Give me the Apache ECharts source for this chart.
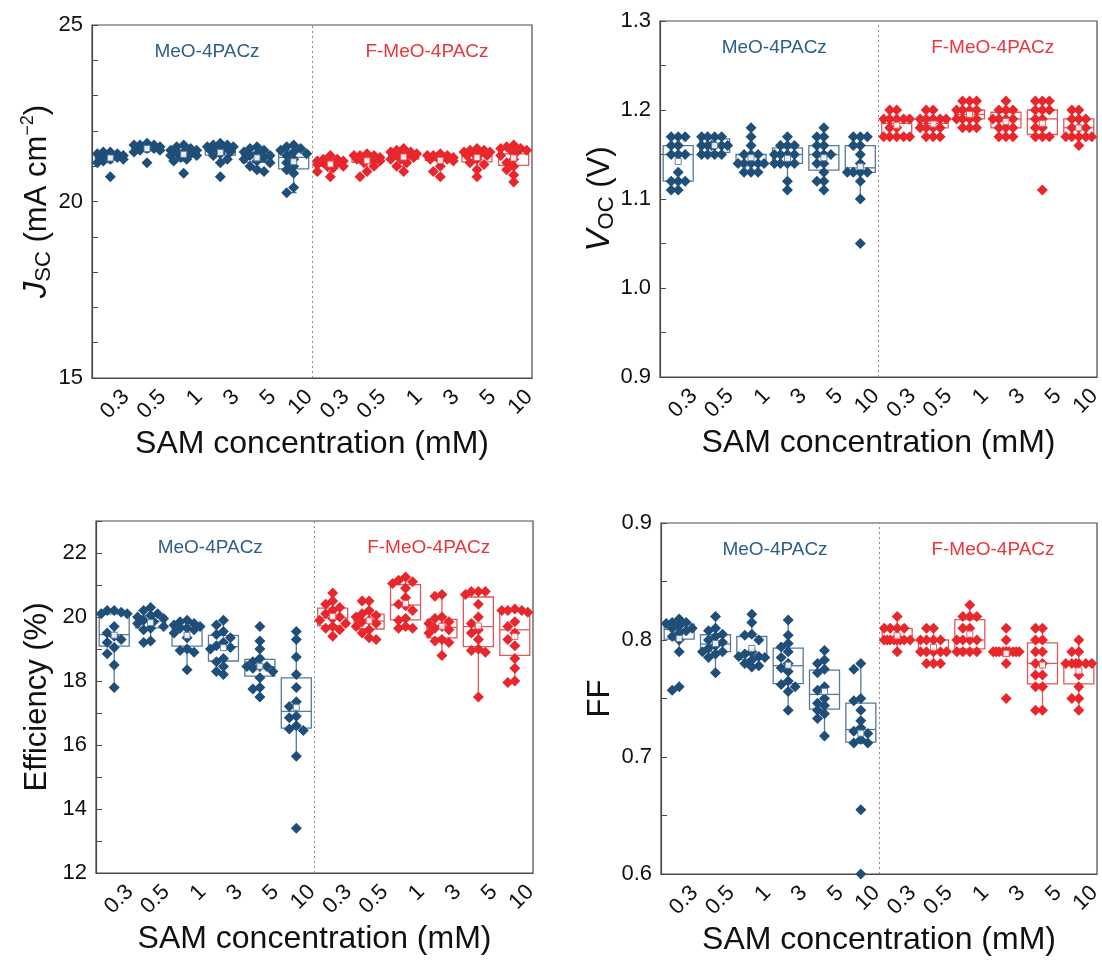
<!DOCTYPE html>
<html>
<head>
<meta charset="utf-8">
<script src="https://cdn.jsdelivr.net/npm/echarts@6/dist/echarts.min.js"></script>
<style>
html,body{margin:0;padding:0;background:#fff;}
#chart{width:1102px;height:963px;}
</style>
</head>
<body>
<div id="chart"></div>
<script>
// SAM concentrations (mM) for each molecule
const concentrations = ['0.3', '0.5', '1', '3', '5', '10'];
const categories = concentrations.concat(concentrations);
const groupNames = ['MeO-4PACz', 'F-MeO-4PACz'];

// Short-circuit current density (mA cm^-2), one list per concentration
const jscMeO = [
  [21.3, 21.25, 21.35, 21.2, 21.4, 21.3, 21.15, 21.25, 21.1, 21.3, 21.4, 21.2, 20.7, 21.35],
  [21.6, 21.55, 21.5, 21.65, 21.45, 21.5, 21.6, 21.55, 21.4, 21.5, 21.6, 21.1, 21.55, 21.45],
  [21.5, 21.4, 21.3, 21.55, 21.25, 21.45, 21.35, 21.2, 21.6, 21.4, 21.3, 21.15, 20.8, 21.45],
  [21.6, 21.55, 21.5, 21.65, 21.4, 21.3, 21.2, 21.45, 21.55, 21.1, 21.35, 21.6, 20.7, 21.5],
  [21.5, 21.4, 21.3, 21.2, 21.45, 21.1, 21.35, 21.25, 21.0, 20.85, 21.55, 21.3, 21.15, 20.9],
  [21.55, 21.45, 21.6, 21.4, 21.3, 21.2, 21.0, 20.9, 20.8, 21.5, 21.35, 20.4, 20.25, 21.1]
];
const jscFMeO = [
  [21.1, 21.2, 21.0, 21.15, 21.3, 21.05, 21.1, 20.95, 21.2, 20.85, 20.7, 21.1, 21.0, 21.15],
  [21.3, 21.25, 21.2, 21.35, 21.15, 21.3, 21.1, 21.2, 21.25, 21.0, 20.85, 20.7, 21.3, 21.2],
  [21.4, 21.35, 21.45, 21.3, 21.2, 21.1, 21.35, 21.5, 21.25, 21.0, 20.85, 21.4, 21.3, 21.2],
  [21.3, 21.25, 21.2, 21.35, 21.15, 21.3, 21.2, 21.25, 21.3, 21.0, 20.85, 20.7, 21.2, 21.25],
  [21.45, 21.4, 21.3, 21.5, 21.35, 21.2, 21.1, 21.4, 21.3, 21.05, 20.9, 20.7, 21.45, 21.35],
  [21.55, 21.5, 21.45, 21.4, 21.6, 21.3, 21.2, 21.45, 21.1, 21.0, 20.9, 20.75, 20.55, 21.5]
];

// Open-circuit voltage (V)
const vocMeO = [
  [1.17, 1.17, 1.16, 1.16, 1.15, 1.15, 1.15, 1.13, 1.12, 1.12, 1.12, 1.11, 1.11, 1.17],
  [1.17, 1.17, 1.17, 1.17, 1.16, 1.16, 1.16, 1.16, 1.16, 1.15, 1.15, 1.15, 1.15, 1.16],
  [1.18, 1.17, 1.16, 1.15, 1.15, 1.15, 1.14, 1.14, 1.14, 1.14, 1.14, 1.13, 1.13, 1.13],
  [1.17, 1.16, 1.16, 1.16, 1.15, 1.15, 1.15, 1.15, 1.14, 1.14, 1.14, 1.14, 1.12, 1.11],
  [1.18, 1.17, 1.17, 1.16, 1.16, 1.15, 1.15, 1.15, 1.14, 1.14, 1.12, 1.12, 1.11, 1.13],
  [1.17, 1.17, 1.17, 1.16, 1.16, 1.15, 1.14, 1.13, 1.13, 1.13, 1.13, 1.12, 1.10, 1.05]
];
const vocFMeO = [
  [1.20, 1.20, 1.19, 1.19, 1.19, 1.19, 1.19, 1.18, 1.17, 1.17, 1.17, 1.17, 1.17, 1.18],
  [1.20, 1.20, 1.19, 1.19, 1.19, 1.19, 1.18, 1.18, 1.18, 1.18, 1.17, 1.17, 1.17, 1.19],
  [1.21, 1.21, 1.21, 1.20, 1.20, 1.20, 1.20, 1.19, 1.19, 1.19, 1.19, 1.18, 1.18, 1.18],
  [1.21, 1.20, 1.20, 1.19, 1.19, 1.19, 1.19, 1.18, 1.18, 1.17, 1.17, 1.17, 1.20, 1.18],
  [1.21, 1.21, 1.21, 1.20, 1.20, 1.20, 1.19, 1.19, 1.18, 1.18, 1.17, 1.17, 1.17, 1.11],
  [1.20, 1.20, 1.19, 1.19, 1.18, 1.18, 1.18, 1.17, 1.17, 1.17, 1.17, 1.17, 1.16, 1.19]
];

// Power conversion efficiency (%)
const pceMeO = [
  [20.2, 20.2, 20.15, 20.1, 20.1, 19.7, 19.5, 19.4, 19.3, 19.2, 19.05, 18.85, 18.5, 17.8],
  [20.3, 20.2, 20.1, 20.05, 20.0, 19.95, 19.9, 19.85, 19.8, 19.7, 19.65, 19.6, 19.25, 19.2],
  [19.9, 19.85, 19.8, 19.75, 19.7, 19.65, 19.65, 19.6, 19.5, 19.35, 19.0, 18.95, 18.9, 18.35],
  [19.9, 19.75, 19.55, 19.45, 19.35, 19.2, 19.1, 19.05, 19.0, 18.7, 18.6, 18.45, 18.3, 18.2],
  [19.7, 19.25, 19.0, 18.7, 18.6, 18.45, 18.45, 18.45, 18.4, 18.3, 18.1, 17.8, 17.75, 17.5],
  [19.55, 19.3, 18.75, 18.2, 17.8, 17.35, 17.2, 16.9, 16.85, 16.5, 16.6, 16.45, 15.65, 13.4]
];
const pceFMeO = [
  [20.75, 20.5, 20.4, 20.3, 20.2, 20.1, 20.0, 19.95, 19.9, 19.8, 19.7, 19.65, 19.6, 19.4],
  [20.5, 20.5, 20.2, 20.1, 20.05, 20.0, 19.9, 19.85, 19.8, 19.7, 19.6, 19.5, 19.35, 19.3],
  [21.25, 21.15, 21.1, 21.05, 20.9, 20.6, 20.4, 20.35, 20.2, 19.95, 19.9, 19.7, 19.65, 19.65],
  [20.7, 20.65, 20.0, 19.95, 19.85, 19.8, 19.7, 19.65, 19.6, 19.5, 19.3, 19.25, 19.2, 18.8],
  [20.8, 20.8, 20.8, 20.7, 20.4, 20.0, 19.8, 19.6, 19.5, 19.3, 19.0, 18.95, 18.9, 17.5],
  [20.25, 20.2, 20.2, 20.15, 20.2, 19.85, 19.7, 19.5, 19.3, 19.1, 18.7, 18.4, 18.0, 17.95]
];

// Fill factor
const ffMeO = [
  [0.818, 0.815, 0.814, 0.812, 0.81, 0.81, 0.808, 0.806, 0.803, 0.80, 0.79, 0.76, 0.757, 0.815],
  [0.82, 0.81, 0.808, 0.805, 0.803, 0.80, 0.798, 0.795, 0.793, 0.79, 0.79, 0.788, 0.785, 0.772],
  [0.822, 0.815, 0.805, 0.804, 0.80, 0.79, 0.788, 0.786, 0.786, 0.785, 0.783, 0.78, 0.778, 0.777],
  [0.817, 0.804, 0.797, 0.794, 0.79, 0.785, 0.78, 0.776, 0.773, 0.765, 0.762, 0.76, 0.756, 0.74],
  [0.791, 0.783, 0.78, 0.775, 0.772, 0.76, 0.757, 0.75, 0.746, 0.744, 0.74, 0.737, 0.733, 0.718],
  [0.78, 0.775, 0.75, 0.748, 0.74, 0.731, 0.725, 0.722, 0.72, 0.715, 0.712, 0.712, 0.655, 0.60]
];
const ffFMeO = [
  [0.82, 0.81, 0.81, 0.81, 0.81, 0.80, 0.80, 0.80, 0.80, 0.80, 0.80, 0.80, 0.79, 0.80],
  [0.81, 0.81, 0.80, 0.80, 0.80, 0.80, 0.79, 0.79, 0.79, 0.79, 0.78, 0.78, 0.78, 0.79],
  [0.83, 0.82, 0.82, 0.81, 0.81, 0.80, 0.80, 0.80, 0.80, 0.79, 0.79, 0.79, 0.79, 0.82],
  [0.81, 0.80, 0.79, 0.79, 0.79, 0.79, 0.79, 0.79, 0.79, 0.79, 0.79, 0.78, 0.75, 0.79],
  [0.81, 0.81, 0.80, 0.80, 0.79, 0.79, 0.78, 0.78, 0.77, 0.77, 0.76, 0.76, 0.74, 0.74],
  [0.80, 0.79, 0.79, 0.78, 0.78, 0.78, 0.78, 0.78, 0.77, 0.76, 0.75, 0.75, 0.74, 0.78]
];

const FONT = '"Liberation Sans", Arial, sans-serif';
const AXIS_COLOR = '#4a4a4a';
const BLUE = '#1f4e79';
const RED = '#e8272c';
const BLUE_BOX = '#57799a';
const RED_BOX = '#e0585e';
const BLUE_TEXT = '#2d5d89';
const RED_TEXT = '#e8363a';

const panels = [
  { grid: { left: 92, top: 25, width: 440, height: 353 }, min: 15, max: 25, step: 1, labelEvery: 5, digits: 0,
    name: '{i|J}{s|SC}{n| (mA cm}{p|−2}{n|)}', nameGap: 37, groups: [jscMeO, jscFMeO] },
  { grid: { left: 660, top: 21, width: 437, height: 356 }, min: 0.9, max: 1.3, step: 0.05, labelEvery: 0.1, digits: 1,
    name: '{i|V}{s|OC}{n| (V)}', nameGap: 42, groups: [vocMeO, vocFMeO] },
  { grid: { left: 96, top: 521, width: 437, height: 352 }, min: 12, max: 23, step: 1, labelEvery: 2, digits: 0,
    name: '{n|Efficiency (%)}', nameGap: 41, groups: [pceMeO, pceFMeO] },
  { grid: { left: 661, top: 523, width: 436, height: 351 }, min: 0.6, max: 0.9, step: 0.05, labelEvery: 0.1, digits: 1,
    name: '{n|FF}', nameGap: 43, groups: [ffMeO, ffFMeO] }
];

// Quartiles by linear interpolation
function quantile(sorted, p) {
  const pos = (sorted.length - 1) * p;
  const lo = Math.floor(pos), hi = Math.ceil(pos);
  return sorted[lo] + (sorted[hi] - sorted[lo]) * (pos - lo);
}
function boxStats(values, idx) {
  const s = values.slice().sort((a, b) => a - b);
  const q1 = quantile(s, 0.25), med = quantile(s, 0.5), q3 = quantile(s, 0.75);
  const iqr = q3 - q1;
  const lo = s.find(v => v >= q1 - 1.5 * iqr - 1e-9);
  const hi = s.slice().reverse().find(v => v <= q3 + 1.5 * iqr + 1e-9);
  const mean = s.reduce((a, b) => a + b, 0) / s.length;
  return [idx, q1, med, q3, lo, hi, mean];
}

// Spread points of one category sideways so that markers do not pile up
function swarm(values, idx, pxPerUnit, catPx) {
  const order = values.map((v, k) => k).sort((a, b) => values[b] - values[a]);
  const placed = [];
  const slots = [0, -7, 7, -13, 13, -3, 3, -10, 10];
  const out = [];
  order.forEach(k => {
    const y = values[k] * pxPerUnit;
    let best = 0, bestScore = -Infinity;
    for (const dx of slots) {
      let minD = Infinity;
      for (const p of placed) {
        const d = Math.hypot(p[0] - dx, p[1] - y);
        if (d < minD) minD = d;
      }
      if (minD >= 7) { best = dx; bestScore = Infinity; break; }
      if (minD > bestScore) { bestScore = minD; best = dx; }
    }
    placed.push([best, y]);
    out.push([idx + best / catPx, values[k]]);
  });
  return out;
}

const option = {
  animation: false,
  backgroundColor: '#fff',
  textStyle: { fontFamily: FONT },
  title: [],
  grid: [], xAxis: [], yAxis: [], series: []
};

panels.forEach((pn, pi) => {
  option.grid.push(Object.assign({
    show: true, borderColor: AXIS_COLOR, borderWidth: 1.2, backgroundColor: 'transparent',
    containLabel: false, outerBoundsMode: 'none'
  }, pn.grid));
  const catPx = pn.grid.width / 12;
  const pxPerUnit = pn.grid.height / (pn.max - pn.min);

  // visible category axis
  option.xAxis.push({
    type: 'category', gridIndex: pi, data: categories,
    axisLine: { onZero: false, lineStyle: { color: AXIS_COLOR, width: 1.2 } },
    axisTick: { inside: true, alignWithLabel: true, interval: 0, length: 6, lineStyle: { color: AXIS_COLOR } },
    axisLabel: {
      rotate: 45, interval: 0, fontSize: 22, color: '#111', fontFamily: FONT,
      margin: 0, align: 'right', verticalAlign: 'top', lineHeight: 44
    },
    name: 'SAM concentration (mM)', nameLocation: 'middle', nameGap: 50, nameMoveOverlap: false,
    nameTextStyle: { fontSize: 32, color: '#111', fontFamily: FONT }
  });
  // hidden value axis used to place boxes and jittered points
  option.xAxis.push({
    type: 'value', gridIndex: pi, min: -0.5, max: 11.5, show: false
  });
  const xCat = pi * 2, xVal = pi * 2 + 1;

  option.yAxis.push({
    type: 'value', gridIndex: pi, min: pn.min, max: pn.max, interval: pn.step,
    splitLine: { show: false },
    axisLine: { show: true, onZero: false, lineStyle: { color: AXIS_COLOR, width: 1.2 } },
    axisTick: { inside: true, length: 6, lineStyle: { color: AXIS_COLOR } },
    axisLabel: {
      fontSize: 22, color: '#111', margin: 9, fontFamily: FONT,
      formatter: v => {
        const r = v / pn.labelEvery;
        return Math.abs(r - Math.round(r)) < 1e-6 ? v.toFixed(pn.digits) : '';
      }
    },
    name: pn.name, nameLocation: 'middle', nameGap: pn.nameGap, nameMoveOverlap: false,
    nameTextStyle: {
      color: '#111', fontFamily: FONT,
      rich: {
        n: { fontSize: 31, fontFamily: FONT, color: '#111', lineHeight: 36, verticalAlign: 'middle' },
        i: { fontSize: 33, fontFamily: FONT, fontStyle: 'italic', color: '#111', lineHeight: 36, verticalAlign: 'middle' },
        s: { fontSize: 22, fontFamily: FONT, color: '#111', lineHeight: 36, verticalAlign: 'bottom' },
        p: { fontSize: 18, fontFamily: FONT, color: '#111', lineHeight: 36, verticalAlign: 'top' }
      }
    }
  });

  // group labels
  [0, 1].forEach(g => {
    option.title.push({
      text: groupNames[g],
      left: pn.grid.left + pn.grid.width * (g === 0 ? 0.25 : 0.75),
      top: pn.grid.top + 12,
      textAlign: 'center',
      textStyle: { fontSize: 19, fontWeight: 'normal', fontFamily: FONT, color: g === 0 ? BLUE_TEXT : RED_TEXT }
    });
  });

  pn.groups.forEach((group, g) => {
    const boxColor = g === 0 ? BLUE_BOX : RED_BOX;
    const ptColor = g === 0 ? BLUE : RED;
    const stats = group.map((vals, c) => boxStats(vals, c + g * 6));
    const points = [];
    group.forEach((vals, c) => { swarm(vals, c + g * 6, pxPerUnit, catPx).forEach(p => points.push(p)); });

    option.series.push({
      type: 'custom', xAxisIndex: xVal, yAxisIndex: pi, z: 1,
      data: stats,
      renderItem: (params, api) => {
        const i = api.value(0);
        const c = k => api.coord([i, api.value(k)]);
        const q1 = c(1), med = c(2), q3 = c(3), lo = c(4), hi = c(5);
        const x = q1[0], hw = 15;
        const st = { stroke: boxColor, fill: null, lineWidth: 1.3 };
        return {
          type: 'group',
          children: [
            { type: 'line', shape: { x1: x, y1: q3[1], x2: x, y2: hi[1] }, style: st },
            { type: 'line', shape: { x1: x, y1: q1[1], x2: x, y2: lo[1] }, style: st },
            { type: 'line', shape: { x1: x - 3, y1: hi[1], x2: x + 3, y2: hi[1] }, style: st },
            { type: 'line', shape: { x1: x - 3, y1: lo[1], x2: x + 3, y2: lo[1] }, style: st },
            { type: 'rect', shape: { x: x - hw, y: q3[1], width: 2 * hw, height: Math.max(q1[1] - q3[1], 0.1) }, style: st },
            { type: 'line', shape: { x1: x - hw, y1: med[1], x2: x + hw, y2: med[1] }, style: st }
          ]
        };
      }
    });
    option.series.push({
      type: 'scatter', xAxisIndex: xVal, yAxisIndex: pi, z: 2,
      symbol: 'diamond', symbolSize: 11,
      itemStyle: { color: ptColor, opacity: 1 },
      data: points,
      markLine: g === 0 ? {
        silent: true, symbol: 'none', label: { show: false },
        lineStyle: { color: '#8a8a8a', type: [2, 3], width: 1 },
        data: [{ xAxis: 5.5 }]
      } : undefined
    });
    // mean markers
    option.series.push({
      type: 'scatter', xAxisIndex: xVal, yAxisIndex: pi, z: 3,
      symbol: 'rect', symbolSize: 6,
      itemStyle: { color: '#fff', borderColor: boxColor, borderWidth: 1, opacity: 0.9 },
      data: stats.map(s => [s[0], s[6]])
    });
  });
  // keep the category axis tied to the grid
  option.series.push({ type: 'scatter', xAxisIndex: xCat, yAxisIndex: pi, data: [], silent: true });
});

const chart = echarts.init(document.getElementById('chart'), null, { renderer: 'canvas' });
chart.setOption(option);
</script>
</body>
</html>
